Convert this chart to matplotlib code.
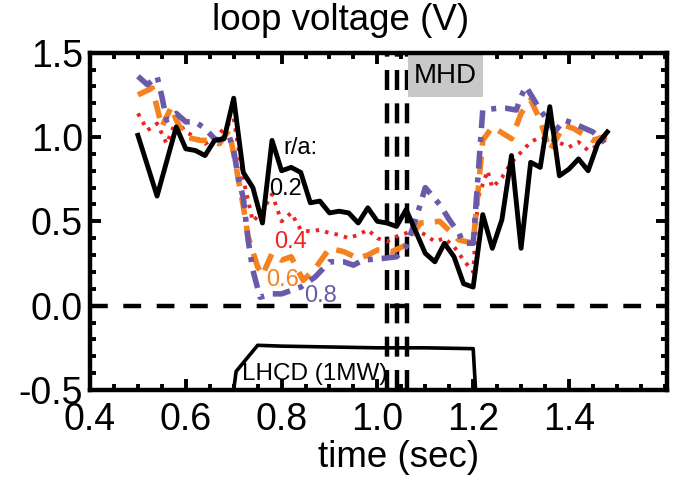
import matplotlib
matplotlib.use("Agg")
import matplotlib.pyplot as plt
from matplotlib.ticker import MultipleLocator
from matplotlib.patches import Rectangle

plt.rcParams['font.family'] = ['Liberation Sans', 'DejaVu Sans']

# r/a = 0.2 (black solid)
t_02 = [0.50, 0.54, 0.58, 0.60, 0.62, 0.64, 0.66, 0.68, 0.70, 0.72, 0.74, 0.76, 0.78,
        0.80, 0.82, 0.84, 0.86, 0.88, 0.90, 0.92, 0.94, 0.96, 0.98, 1.00, 1.02, 1.04,
        1.06, 1.08, 1.10, 1.12, 1.14, 1.16, 1.18, 1.20, 1.22, 1.24, 1.26, 1.28, 1.30,
        1.32, 1.34, 1.36, 1.38, 1.40, 1.42, 1.44, 1.46, 1.48]
v_02 = [1.01, 0.65, 1.06, 0.93, 0.92, 0.89, 0.98, 0.99, 1.23, 0.79, 0.70, 0.49, 0.98,
        0.80, 0.82, 0.79, 0.61, 0.62, 0.55, 0.56, 0.55, 0.49, 0.58, 0.50, 0.49, 0.47,
        0.57, 0.44, 0.31, 0.26, 0.37, 0.29, 0.13, 0.11, 0.54, 0.34, 0.51, 0.89, 0.34,
        0.85, 0.82, 1.18, 0.77, 0.81, 0.87, 0.80, 0.96, 1.03]

# r/a = 0.4 (red dotted)
t_04 = [0.50, 0.52, 0.54, 0.56, 0.58, 0.60, 0.62, 0.64, 0.66, 0.68, 0.70, 0.72, 0.74,
        0.76, 0.78, 0.80, 0.82, 0.84, 0.86, 0.88, 0.90, 0.92, 0.94, 0.96, 0.98, 1.00,
        1.02, 1.04, 1.06, 1.08, 1.10, 1.12, 1.14, 1.16, 1.18, 1.20, 1.21, 1.23, 1.24,
        1.26, 1.28, 1.30, 1.32, 1.34, 1.37, 1.40, 1.42, 1.44, 1.46, 1.48]
v_04 = [1.14, 1.04, 1.08, 0.96, 1.10, 1.03, 1.00, 0.96, 0.99, 1.05, 1.11, 0.75, 0.50,
        0.56, 0.66, 0.50, 0.55, 0.45, 0.44, 0.45, 0.43, 0.42, 0.40, 0.42, 0.45, 0.40,
        0.38, 0.41, 0.43, 0.45, 0.42, 0.38, 0.40, 0.35, 0.27, 0.20, 0.64, 0.80, 0.70,
        0.76, 0.85, 0.91, 0.97, 1.00, 0.98, 0.94, 0.97, 0.92, 0.95, 0.99]

# r/a = 0.6 (orange dashed)
t_06 = [0.50, 0.53, 0.55, 0.57, 0.58, 0.60, 0.63, 0.65, 0.67, 0.69, 0.70, 0.72, 0.73,
        0.75, 0.76, 0.78, 0.80, 0.82, 0.845, 0.87, 0.90, 0.93, 0.96, 0.98, 1.00, 1.03,
        1.06, 1.075, 1.09, 1.13, 1.17, 1.20, 1.22, 1.24, 1.28, 1.30, 1.32, 1.34, 1.36,
        1.39, 1.41, 1.45, 1.47, 1.48]
v_06 = [1.25, 1.29, 1.06, 1.18, 1.10, 1.00, 0.98, 0.98, 0.96, 1.04, 0.90, 0.59, 0.41,
        0.23, 0.18, 0.31, 0.27, 0.29, 0.15, 0.22, 0.34, 0.32, 0.28, 0.30, 0.33, 0.32,
        0.36, 0.43, 0.49, 0.50, 0.39, 0.37, 0.98, 1.06, 0.99, 1.14, 1.22, 1.10, 0.92,
        1.07, 1.05, 0.98, 1.00, 1.00]

# r/a = 0.8 (purple dash-dot)
t_08 = [0.50, 0.52, 0.54, 0.55, 0.56, 0.58, 0.60, 0.62, 0.64, 0.66, 0.67, 0.69, 0.70,
        0.71, 0.72, 0.73, 0.74, 0.755, 0.78, 0.80, 0.84, 0.87, 0.90, 0.93, 0.95, 0.97,
        1.01, 1.04, 1.06, 1.08, 1.10, 1.13, 1.15, 1.17, 1.18, 1.20, 1.22, 1.25, 1.27,
        1.29, 1.30, 1.31, 1.34, 1.36, 1.37, 1.39, 1.41, 1.45, 1.47, 1.48]
v_08 = [1.36, 1.31, 1.36, 1.24, 1.10, 1.14, 1.09, 1.09, 1.05, 0.99, 0.98, 1.01, 0.92,
        0.75, 0.64, 0.39, 0.21, 0.05, 0.07, 0.07, 0.11, 0.17, 0.26, 0.26, 0.24, 0.27,
        0.28, 0.29, 0.35, 0.51, 0.70, 0.60, 0.51, 0.43, 0.37, 0.37, 1.16, 1.17, 1.17,
        1.16, 1.24, 1.30, 1.16, 1.08, 1.03, 1.10, 1.08, 1.03, 0.98, 0.99]

# LHCD power trace (scaled onto axis)
t_lh = [0.70, 0.705, 0.75, 0.80, 0.90, 1.00, 1.10, 1.20, 1.205]
v_lh = [-0.5, -0.39, -0.235, -0.24, -0.245, -0.25, -0.25, -0.255, -0.5]

# MHD vertical markers and shaded label box
t_mhd = [1.02, 1.041, 1.061]
mhd_box = (1.064, 1.238, 1.221, 1.49)  # t0, v0, t1, v1

labels = ['0.2', '0.4', '0.6', '0.8']
colors = ['black', '#ee2222', '#f5821f', '#6b5aa8']

fig = plt.figure(figsize=(6.83, 4.82), dpi=100)
ax = fig.add_axes([0.1318, 0.1909, 0.845, 0.6998])

ax.axhline(0.0, color='black', lw=3.2, dashes=(4, 3.5), zorder=1)
for tm in t_mhd:
    ax.axvline(tm, color='black', lw=3.2, dashes=(4.5, 3), zorder=1)

ax.add_patch(Rectangle((mhd_box[0], mhd_box[1]), mhd_box[2] - mhd_box[0],
                       mhd_box[3] - mhd_box[1], fc='#c8c8c8', ec='none', zorder=2))
ax.text((mhd_box[0] + mhd_box[2]) / 2, (mhd_box[1] + mhd_box[3]) / 2, 'MHD',
        fontsize=20, ha='center', va='center', zorder=7)

ax.plot(t_04, v_04, color=colors[1], lw=2.8, dashes=(0.9, 1.6), zorder=3)
ax.plot(t_06, v_06, color=colors[2], lw=4.0, dashes=(3.2, 2.0), zorder=4)
ax.plot(t_08, v_08, color=colors[3], lw=4.0, dashes=(3.2, 1.6, 0.9, 1.6), zorder=5)
ax.plot(t_02, v_02, color=colors[0], lw=3.5, zorder=6)
ax.plot(t_lh, v_lh, color='black', lw=2.6, zorder=6)

ax.text(0.840, 0.935, 'r/a:', fontsize=17, ha='center', va='center', zorder=7)
ax.text(0.809, 0.69, labels[0], fontsize=17, color=colors[0], ha='center', va='center', zorder=7)
ax.text(0.818, 0.38, labels[1], fontsize=17, color=colors[1], ha='center', va='center', zorder=7)
ax.text(0.803, 0.15, labels[2], fontsize=17, color=colors[2], ha='center', va='center', zorder=7)
ax.text(0.882, 0.06, labels[3], fontsize=17, color=colors[3], ha='center', va='center', zorder=7)
ax.text(0.87, -0.405, 'LHCD (1MW)', fontsize=17.5, ha='center', va='center', zorder=7)

ax.set_xlim(0.4, 1.605)
ax.set_ylim(-0.5, 1.5)
ax.xaxis.set_minor_locator(MultipleLocator(0.05))
ax.yaxis.set_minor_locator(MultipleLocator(0.1))
ax.set_xticks([0.4, 0.6, 0.8, 1.0, 1.2, 1.4])
ax.set_xticklabels(['0.4', '0.6', '0.8', '1.0', '1.2', '1.4'])
ax.set_yticks([-0.5, 0.0, 0.5, 1.0, 1.5])
ax.set_yticklabels(['-0.5', '0.0', '0.5', '1.0', '1.5'])
ax.tick_params(which='both', direction='in', top=True, right=True, width=2.8, labelsize=27)
ax.tick_params(which='major', length=8)
ax.tick_params(which='minor', length=4)
ax.tick_params(axis='x', pad=9)
ax.tick_params(axis='y', pad=5)
for s in ax.spines.values():
    s.set_linewidth(3.2)

fig.text(0.498, 0.957, 'loop voltage (V)', fontsize=26.5, ha='center', va='center')
fig.text(0.583, 0.05, 'time (sec)', fontsize=26.5, ha='center', va='center')

fig.savefig('out.png', dpi=100)
